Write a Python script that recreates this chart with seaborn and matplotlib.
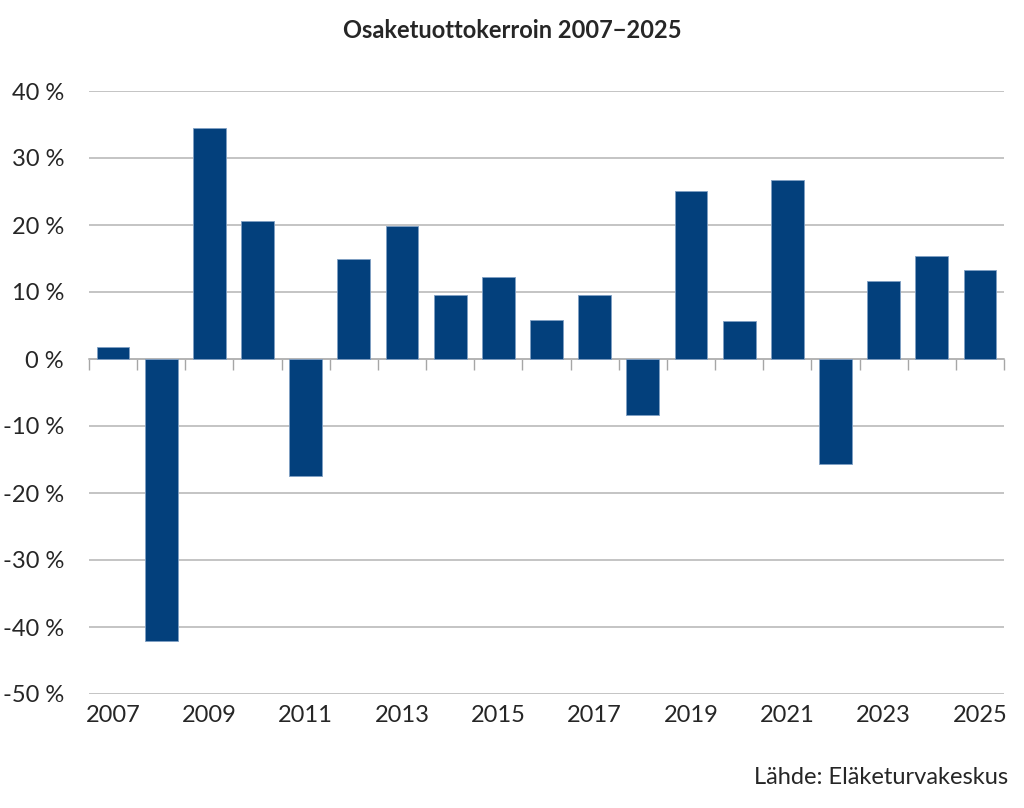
import matplotlib

matplotlib.use('Agg')

import pandas as pd
import seaborn as sns
import matplotlib.pyplot as plt
from matplotlib.ticker import FixedLocator

years = [str(y) for y in range(2007, 2026)]
returns = [1.8, -42.1, 34.5, 20.6, -17.5, 15.0, 19.9, 9.5, 12.3, 5.8,
           9.6, -8.4, 25.1, 5.6, 26.7, -15.6, 11.7, 15.3, 13.3]
y_ticks = [-50, -40, -30, -20, -10, 0, 10, 20, 30, 40]

df = pd.DataFrame({'vuosi': years, 'tuotto': returns})

sns.set_style('white')
plt.rcParams['font.family'] = ['Lato', 'DejaVu Sans']

fig, ax = plt.subplots(figsize=(10.24, 8.08), dpi=100)
fig.subplots_adjust(left=89 / 1024, right=1004 / 1024, top=1 - 91 / 808, bottom=1 - 694 / 808)

sns.barplot(data=df, x='vuosi', y='tuotto', color='#03407c', saturation=1,
            width=0.68, edgecolor='#7f9fc4', linewidth=0.6, ax=ax, zorder=3)

ax.set_ylim(-50, 40)
ax.set_xlim(-0.5, len(years) - 0.5)
ax.set_yticks(y_ticks)
ax.set_yticklabels([f'{v} %' for v in y_ticks], fontsize=17)
ax.yaxis.grid(True, color='#b4b4b4', linewidth=1.1)
ax.set_axisbelow(True)
ax.tick_params(axis='y', length=0, pad=18)

# year labels at the bottom, every other year
ax.set_xticks(range(0, len(years), 2))
ax.set_xticklabels(years[::2], fontsize=17)
ax.tick_params(axis='x', length=0, pad=8)
ax.set_xlabel('')
ax.set_ylabel('')
for s in ax.spines.values():
    s.set_visible(False)

# category axis crossing at zero, tick marks between categories
zero_axis = ax.secondary_xaxis(50 / 90)
zero_axis.xaxis.set_major_locator(FixedLocator([i - 0.5 for i in range(len(years) + 1)]))
zero_axis.tick_params(axis='x', direction='out', length=8, width=1, color='#a6a6a6', labelbottom=False,
                      labeltop=False, bottom=True, top=False)
zero_axis.spines['bottom'].set_color('#a6a6a6')
zero_axis.spines['top'].set_color('#a6a6a6')
zero_axis.spines['top'].set_linewidth(1.1)
zero_axis.set_xticklabels([])

fig.text(0.5, 1 - 30 / 808, 'Osaketuottokerroin 2007\u22122025', ha='center', va='center',
         fontsize=17, fontweight='bold')
fig.text(1008 / 1024, 1 - 778 / 808, 'Lähde: Eläketurvakeskus', ha='right', va='center', fontsize=17)

plt.savefig('out.png', dpi=100)
